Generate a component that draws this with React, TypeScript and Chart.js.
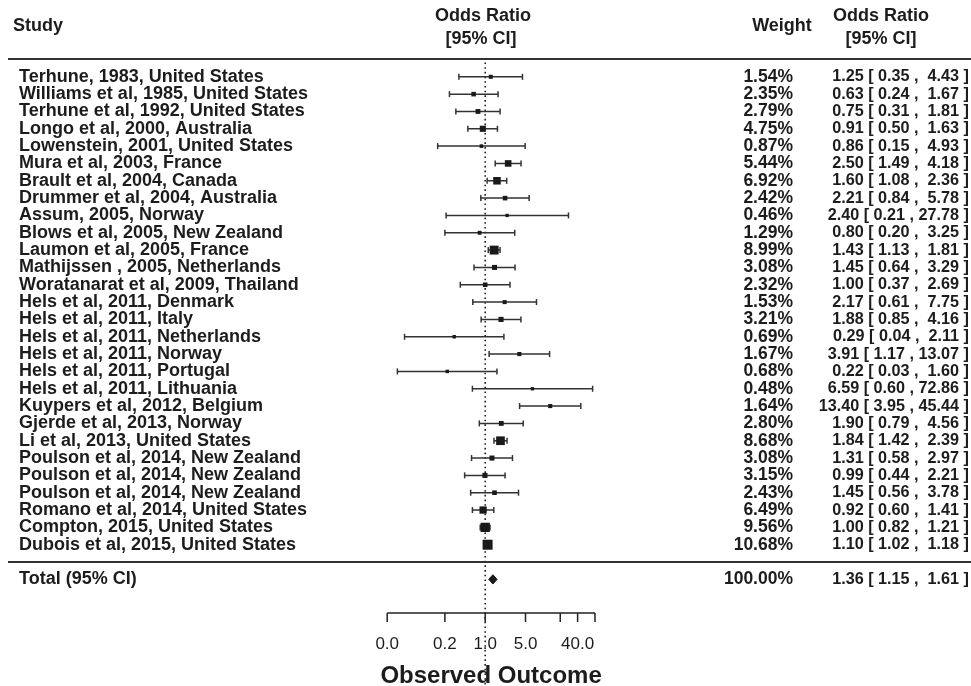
import React, { useEffect, useRef } from "react";
import { Chart, registerables } from "chart.js";
Chart.register(...registerables);

const studies = [
  "Terhune, 1983, United States",
  "Williams et al, 1985, United States",
  "Terhune et al, 1992, United States",
  "Longo et al, 2000, Australia",
  "Lowenstein, 2001, United States",
  "Mura et al, 2003, France",
  "Brault et al, 2004, Canada",
  "Drummer et al, 2004, Australia",
  "Assum, 2005, Norway",
  "Blows et al, 2005, New Zealand",
  "Laumon et al, 2005, France",
  "Mathijssen , 2005, Netherlands",
  "Woratanarat et al, 2009, Thailand",
  "Hels et al, 2011, Denmark",
  "Hels et al, 2011, Italy",
  "Hels et al, 2011, Netherlands",
  "Hels et al, 2011, Norway",
  "Hels et al, 2011, Portugal",
  "Hels et al, 2011, Lithuania",
  "Kuypers et al, 2012, Belgium",
  "Gjerde et al, 2013, Norway",
  "Li et al, 2013, United States",
  "Poulson et al, 2014, New Zealand",
  "Poulson et al, 2014, New Zealand",
  "Poulson et al, 2014, New Zealand",
  "Romano et al, 2014, United States",
  "Compton, 2015, United States",
  "Dubois et al, 2015, United States",
];
const weights = [1.54, 2.35, 2.79, 4.75, 0.87, 5.44, 6.92, 2.42, 0.46, 1.29, 8.99, 3.08, 2.32, 1.53, 3.21, 0.69, 1.67, 0.68, 0.48, 1.64, 2.8, 8.68, 3.08, 3.15, 2.43, 6.49, 9.56, 10.68];
const oddsRatios = [1.25, 0.63, 0.75, 0.91, 0.86, 2.5, 1.6, 2.21, 2.4, 0.8, 1.43, 1.45, 1.0, 2.17, 1.88, 0.29, 3.91, 0.22, 6.59, 13.4, 1.9, 1.84, 1.31, 0.99, 1.45, 0.92, 1.0, 1.1];
const lowerCI = [0.35, 0.24, 0.31, 0.5, 0.15, 1.49, 1.08, 0.84, 0.21, 0.2, 1.13, 0.64, 0.37, 0.61, 0.85, 0.04, 1.17, 0.03, 0.6, 3.95, 0.79, 1.42, 0.58, 0.44, 0.56, 0.6, 0.82, 1.02];
const upperCI = [4.43, 1.67, 1.81, 1.63, 4.93, 4.18, 2.36, 5.78, 27.78, 3.25, 1.81, 3.29, 2.69, 7.75, 4.16, 2.11, 13.07, 1.6, 72.86, 45.44, 4.56, 2.39, 2.97, 2.21, 3.78, 1.41, 1.21, 1.18];
const totalLabel = "Total (95% CI)";
const totalWeight = 100.0;
const totalOR = 1.36;
const totalLower = 1.15;
const totalUpper = 1.61;
const tickValues = [0.02, 0.2, 1, 5, 20, 40, 80];
const tickLabels = ["0.0", "0.2", "1.0", "5.0", "", "40.0", ""];
const xTitle = "Observed Outcome";

const W = 971;
const H = 686;
const CENTER_PX = 485.2;
const PX_PER_LOG = 25.05;
const ROW0_PX = 76.8;
const ROW_H = 17.33;
const yMin = 1 - ROW0_PX / ROW_H;
const yMax = yMin + H / ROW_H;
const TOTAL_ROW = studies.length + 2;
const LINE_TOP_ROW = 0;
const LINE_BOTTOM_ROW = studies.length + 1;

const FONT = "'Liberation Sans', Arial, Helvetica, sans-serif";
const TEXT = "#1c1c1c";
const LABEL_FONT = `bold 18px ${FONT}`;
const WEIGHT_FONT = `bold 17.5px ${FONT}`;
const ANNOT_FONT = `bold 16.2px ${FONT}`;

const f2 = (v: number) => v.toFixed(2);
const pad = (s: string, n: number) => (s.length >= n ? s : " ".repeat(n - s.length) + s);
const estW = Math.max(...oddsRatios.map((v) => f2(v).length), f2(totalOR).length);
const loW = Math.max(...lowerCI.map((v) => f2(v).length), f2(totalLower).length);
const hiW = Math.max(...upperCI.map((v) => f2(v).length), f2(totalUpper).length);
const annot = (e: number, l: number, u: number) =>
  pad(f2(e), estW) + " [ " + pad(f2(l), loW) + " , " + pad(f2(u), hiW) + " ]";

const forestPlugin = {
  id: "forestText",
  beforeDatasetsDraw(chart: any) {
    const { ctx, scales } = chart;
    const x = scales.x;
    const y = scales.y;
    const x0 = x.getPixelForValue(0);
    ctx.save();
    // reference line (dotted)
    ctx.strokeStyle = "#222";
    ctx.lineWidth = 1.6;
    ctx.setLineDash([1.6, 3.1]);
    ctx.beginPath();
    ctx.moveTo(x0, y.getPixelForValue(LINE_TOP_ROW) + 3);
    ctx.lineTo(x0, H);
    ctx.stroke();
    ctx.setLineDash([]);
    // horizontal rules
    ctx.strokeStyle = "#333";
    ctx.lineWidth = 2;
    for (const r of [LINE_TOP_ROW, LINE_BOTTOM_ROW]) {
      const py = Math.round(y.getPixelForValue(r));
      ctx.beginPath();
      ctx.moveTo(8, py);
      ctx.lineTo(W, py);
      ctx.stroke();
    }
    // axis
    const axY = 613;
    ctx.strokeStyle = "#222";
    ctx.lineWidth = 1.5;
    const tx = tickValues.map((t) => x.getPixelForValue(Math.log(t)));
    ctx.beginPath();
    ctx.moveTo(tx[0], axY);
    ctx.lineTo(tx[tx.length - 1], axY);
    for (const p of tx) {
      ctx.moveTo(p, axY);
      ctx.lineTo(p, axY + 9);
    }
    ctx.stroke();
    ctx.fillStyle = TEXT;
    ctx.font = `17px ${FONT}`;
    ctx.textAlign = "center";
    ctx.textBaseline = "middle";
    tickLabels.forEach((l, i) => {
      if (l) ctx.fillText(l, tx[i], 644.5);
    });
    ctx.font = `bold 24px ${FONT}`;
    ctx.fillText(xTitle, (tx[0] + tx[tx.length - 1]) / 2, 676.5);
    ctx.restore();
  },
  afterDatasetsDraw(chart: any) {
    const { ctx, scales } = chart;
    const y = scales.y;
    ctx.save();
    ctx.fillStyle = TEXT;
    ctx.textBaseline = "middle";
    ctx.font = LABEL_FONT;
    // headers
    ctx.textAlign = "left";
    ctx.fillText("Study", 13, 26);
    ctx.textAlign = "center";
    ctx.fillText("Weight", 782, 26);
    ctx.fillText("Odds Ratio", 483, 16);
    ctx.fillText("[95% CI]", 481, 39);
    ctx.fillText("Odds Ratio", 881, 16);
    ctx.fillText("[95% CI]", 881, 39);

    const drawRow = (label: string, w: number, est: number, lo: number, hi: number, row: number) => {
      const py = y.getPixelForValue(row);
      ctx.textAlign = "left";
      ctx.font = LABEL_FONT;
      ctx.fillText(label, 19, py);
      ctx.textAlign = "right";
      ctx.font = WEIGHT_FONT;
      ctx.fillText(f2(w) + "%", 793, py);
      ctx.font = ANNOT_FONT;
      ctx.fillText(annot(est, lo, hi), 969, py);
    };
    studies.forEach((s, i) => drawRow(s, weights[i], oddsRatios[i], lowerCI[i], upperCI[i], i + 1));
    drawRow(totalLabel, totalWeight, totalOR, totalLower, totalUpper, TOTAL_ROW);
    ctx.restore();
  },
};

export default function App() {
  const ref = useRef<HTMLCanvasElement | null>(null);
  useEffect(() => {
    document.body.style.margin = "0";
    const canvas = ref.current;
    if (!canvas) return;
    const whiskerData: any[] = [];
    studies.forEach((_, i) => {
      whiskerData.push({ x: Math.log(lowerCI[i]), y: i + 1 });
      whiskerData.push({ x: Math.log(upperCI[i]), y: i + 1 });
      whiskerData.push({ x: Math.log(upperCI[i]), y: null });
    });
    const squareData = studies.map((_, i) => ({ x: Math.log(oddsRatios[i]), y: i + 1 }));
    const squareRadius = weights.map((w) => (3.03 + 0.653 * w) / Math.SQRT2);
    const dh = 0.27;
    const diamond = [
      { x: Math.log(totalLower), y: TOTAL_ROW },
      { x: Math.log(totalOR), y: TOTAL_ROW - dh },
      { x: Math.log(totalUpper), y: TOTAL_ROW },
      { x: Math.log(totalOR), y: TOTAL_ROW + dh },
      { x: Math.log(totalLower), y: TOTAL_ROW },
    ];
    const chart = new Chart(canvas, {
      type: "scatter",
      data: {
        datasets: [
          {
            data: squareData,
            pointStyle: "rect",
            pointRadius: squareRadius,
            pointBackgroundColor: "#1a1a1a",
            pointBorderWidth: 0,
            showLine: false,
          } as any,
          {
            data: diamond,
            showLine: true,
            borderColor: "#1a1a1a",
            backgroundColor: "#1a1a1a",
            borderWidth: 1,
            pointRadius: 0,
            fill: "shape",
            tension: 0,
          } as any,
          {
            data: whiskerData,
            showLine: true,
            spanGaps: false,
            borderColor: "#333",
            borderWidth: 1.5,
            pointStyle: "line",
            pointRotation: 90,
            pointRadius: 3,
            pointBorderWidth: 1.5,
            pointBorderColor: "#333",
            tension: 0,
          } as any,
        ],
      },
      options: {
        animation: false,
        responsive: false,
        devicePixelRatio: 1,
        events: [],
        layout: { padding: 0, autoPadding: false },
        plugins: { legend: { display: false }, tooltip: { enabled: false } },
        scales: {
          x: { type: "linear", display: false, min: -CENTER_PX / PX_PER_LOG, max: (W - CENTER_PX) / PX_PER_LOG },
          y: { type: "linear", display: false, min: yMin, max: yMax, reverse: true },
        },
      },
      plugins: [forestPlugin],
    });
    return () => chart.destroy();
  }, []);
  return (
    <div style={{ position: "absolute", left: 0, top: 0, width: W, height: H, background: "#fff" }}>
      <canvas ref={ref} width={W} height={H} style={{ width: W, height: H, display: "block" }} />
    </div>
  );
}
